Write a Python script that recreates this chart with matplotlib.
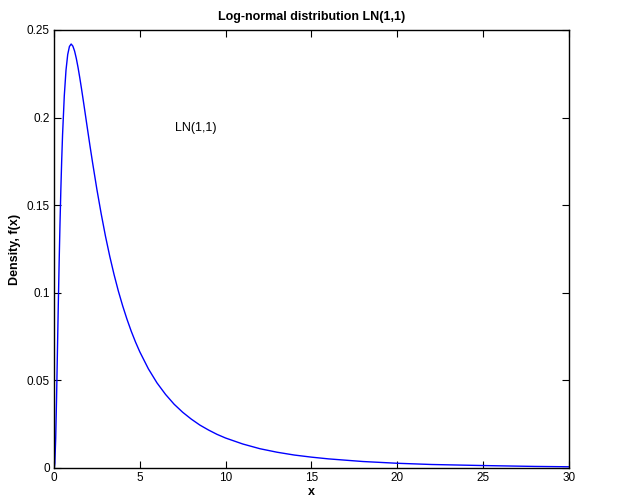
import matplotlib
matplotlib.use('Agg')
import matplotlib.pyplot as plt

plt.rcParams['font.family'] = ['Liberation Sans', 'DejaVu Sans']

# density values
x = [0, 0.02, 0.05, 0.1, 0.15, 0.2, 0.25, 0.3, 0.35, 0.4, 0.45, 0.5, 0.6,
     0.7, 0.8, 0.9, 1.0, 1.1, 1.2, 1.3, 1.4, 1.5, 1.6, 1.7, 1.8, 1.9, 2.0,
     2.1, 2.25, 2.5, 2.75, 3.0, 3.25, 3.5, 3.75, 4.0, 4.25, 4.5, 4.75,
     5, 5.5, 6, 6.5, 7, 7.5, 8, 8.5, 9, 9.5, 10, 11, 12, 13, 14, 15, 16,
     18, 20, 22, 25, 28, 30]
fx = [0, 0.0001, 0.0027, 0.0171, 0.0400, 0.0663, 0.0926, 0.1172, 0.1394,
      0.1590, 0.1759, 0.1903, 0.2124, 0.2271, 0.2360, 0.2406, 0.2420,
      0.2408, 0.2380, 0.2338, 0.2287, 0.2229, 0.2167, 0.2102, 0.2036,
      0.1969, 0.1903, 0.1837, 0.1742, 0.1590, 0.1451, 0.1323, 0.1208,
      0.1104, 0.1010, 0.0926, 0.0850, 0.0781, 0.0719, 0.0663, 0.0566,
      0.0486, 0.0420, 0.0364, 0.0318, 0.0279, 0.0245, 0.0217, 0.0192,
      0.0171, 0.0137, 0.0110, 0.0090, 0.0074, 0.0062, 0.0052, 0.0037,
      0.0027, 0.0020, 0.0014, 0.0009, 0.0007]
xticks = [0, 5, 10, 15, 20, 25, 30]
yticks = [0, 0.05, 0.1, 0.15, 0.2, 0.25]
ytick_labels = ['0', '0.05', '0.1', '0.15', '0.2', '0.25']

fig = plt.figure(figsize=(6.17, 5), dpi=100)
ax = fig.add_axes([0.0875, 0.064, 0.8345, 0.876])

ax.plot(x, fx, color='#0000ff', linewidth=1)
ax.text(7.05, 0.194, 'LN(1,1)', fontsize=9, va='center', ha='left')

ax.set_xlim(0, 30)
ax.set_ylim(0, 0.25)
ax.set_xticks(xticks)
ax.set_yticks(yticks)
ax.set_yticklabels(ytick_labels)
ax.tick_params(direction='in', top=True, right=True, length=5, width=0.8,
               labelsize=8.5, pad=3)
for s in ax.spines.values():
    s.set_linewidth(1)

ax.set_title('Log-normal distribution LN(1,1)', fontsize=9, fontweight='bold', pad=7)
ax.set_xlabel('x', fontsize=9, fontweight='bold', labelpad=1)
ax.set_ylabel('Density, f(x)', fontsize=9, fontweight='bold', labelpad=4)

fig.savefig('out.png', dpi=100)
